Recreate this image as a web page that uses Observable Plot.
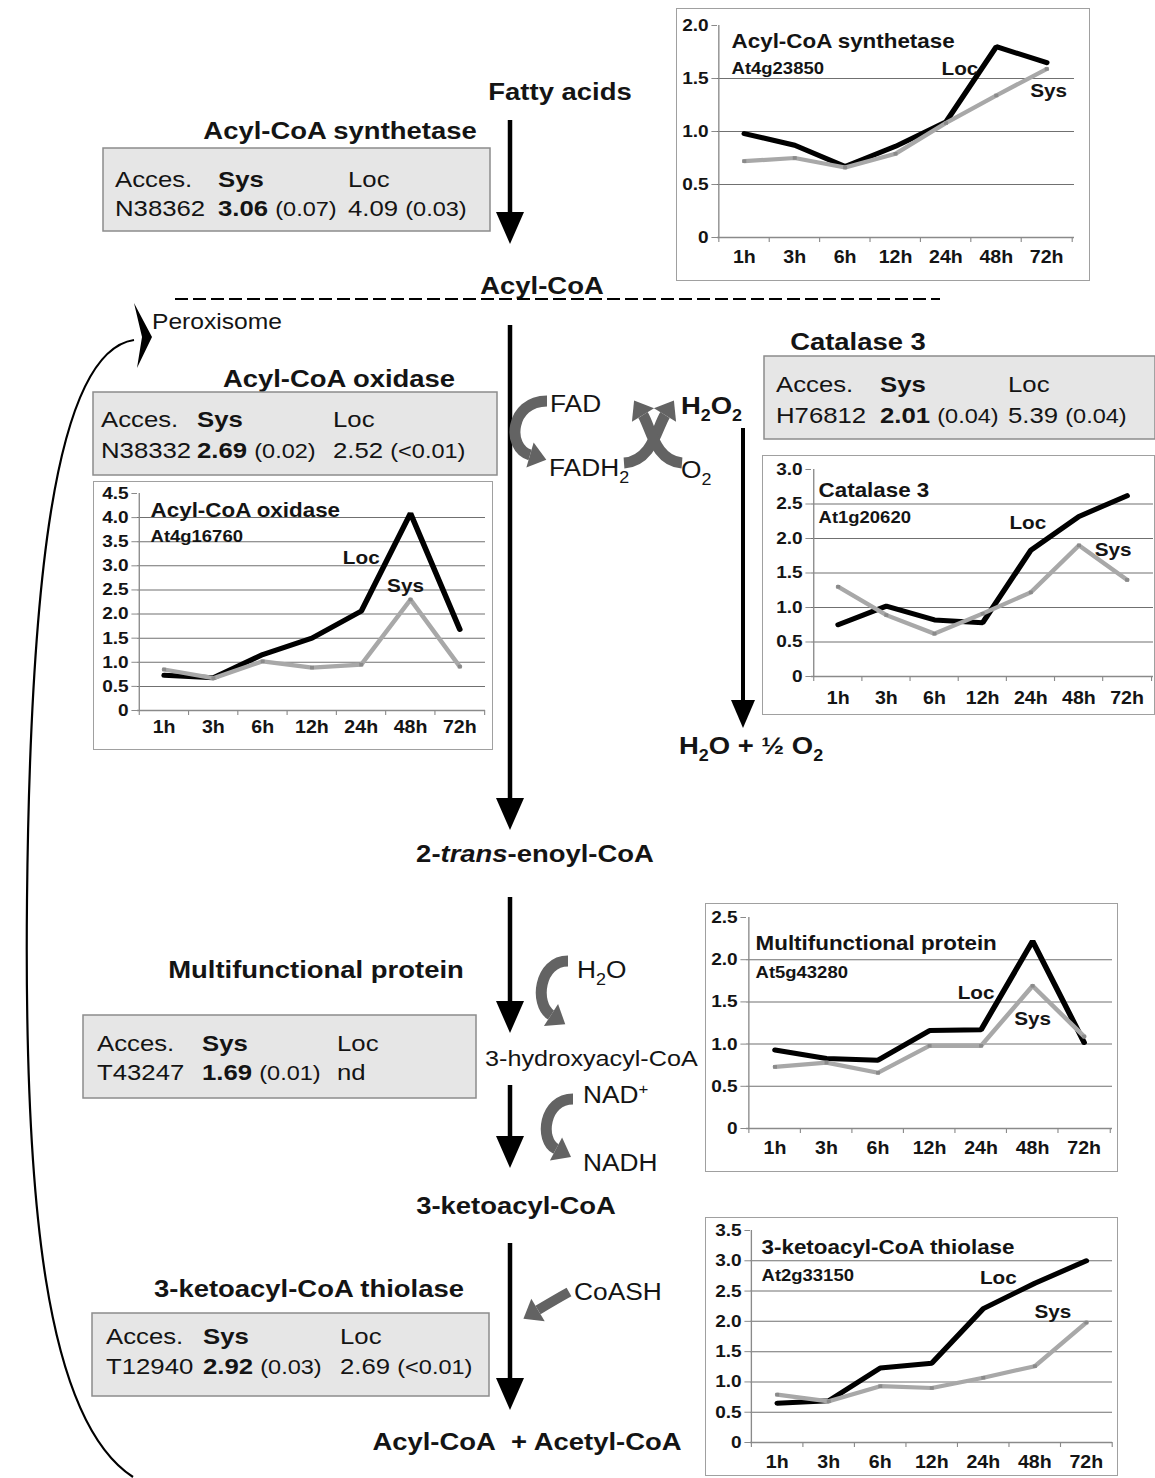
<!DOCTYPE html>
<html><head><meta charset="utf-8">
<script src="https://cdn.jsdelivr.net/npm/d3@7"></script>
<script src="https://cdn.jsdelivr.net/npm/@observablehq/plot@0.6"></script>
<style>
body{margin:0;background:#fff;}
#page{position:relative;width:1155px;height:1478px;overflow:hidden;background:#fff;font-family:"Liberation Sans",Arial,Helvetica,sans-serif;}
#diagram{position:absolute;left:0;top:0;}
.chart{position:absolute;box-sizing:border-box;overflow:hidden;background:#fff;outline:1.5px solid #a0a0a0;outline-offset:-1.5px;}
.chart svg{display:block;max-width:none;transform-origin:0 0;}
</style></head>
<body><div id="page"><svg id="diagram" width="1155" height="1478" xmlns="http://www.w3.org/2000/svg"></svg></div>
<script>
// ---------- data ----------
const timePoints = ["1h","3h","6h","12h","24h","48h","72h"];
const synthetaseLoc = [0.98, 0.87, 0.67, 0.86, 1.09, 1.80, 1.65];
const synthetaseSys = [0.72, 0.75, 0.66, 0.79, 1.08, 1.34, 1.59];
const oxidaseLoc = [0.73, 0.68, 1.16, 1.50, 2.06, 4.09, 1.68];
const oxidaseSys = [0.85, 0.67, 1.02, 0.89, 0.95, 2.30, 0.91];
const catalaseLoc = [0.75, 1.02, 0.82, 0.78, 1.83, 2.32, 2.62];
const catalaseSys = [1.30, 0.89, 0.62, 0.91, 1.22, 1.90, 1.40];
const mfpLoc = [0.93, 0.83, 0.81, 1.16, 1.17, 2.22, 1.02];
const mfpSys = [0.73, 0.78, 0.66, 0.98, 0.98, 1.69, 1.09];
const thiolaseLoc = [0.65, 0.69, 1.23, 1.31, 2.21, 2.63, 3.00];
const thiolaseSys = [0.79, 0.68, 0.93, 0.90, 1.07, 1.26, 1.98];
const yMax = [2.0, 4.5, 3.0, 2.5, 3.5];

const enzymes = ["Acyl-CoA synthetase","Acyl-CoA oxidase","Catalase 3","Multifunctional protein","3-ketoacyl-CoA thiolase"];
const genes = ["At4g23850","At4g16760","At1g20620","At5g43280","At2g33150"];
const accessions = ["N38362","N38332","H76812","T43247","T12940"];
const sysRatio = ["3.06","2.69","2.01","1.69","2.92"];
const sysP = ["(0.07)","(0.02)","(0.04)","(0.01)","(0.03)"];
const locRatio = ["4.09","2.52","5.39","nd","2.69"];
const locP = ["(0.03)","(<0.01)","(0.04)","","(<0.01)"];

// ---------- diagram ----------
const S = 1.12;
const P = [];
function esc(s){return s.replace(/&/g,"&amp;").replace(/</g,"&lt;");}
function label(x, cy, html, size, bold, anchor="start") {
  const base = cy + size*0.36;
  P.push(`<text transform="translate(${x},${base}) scale(${S},1)" font-size="${size}" font-weight="${bold?"bold":"normal"}" text-anchor="${anchor}" fill="#141414">${html}</text>`);
}
function vArrow(x, y1, tip, hw=14, hl=32, sw=4.5) {
  P.push(`<line x1="${x}" y1="${y1}" x2="${x}" y2="${tip-hl+2}" stroke="#000" stroke-width="${sw}"/>`);
  P.push(`<polygon points="${x-hw},${tip-hl} ${x+hw},${tip-hl} ${x},${tip}" fill="#000"/>`);
}
function grayArrow(p0,p1,p2,p3, len=17, hw=13, sw=11) {
  P.push(`<path d="M${p0} C${p1} ${p2} ${p3}" fill="none" stroke="#636363" stroke-width="${sw}"/>`);
  const dx=p3[0]-p2[0], dy=p3[1]-p2[1], L=Math.hypot(dx,dy), ux=dx/L, uy=dy/L;
  const tip=[p3[0]+ux*len, p3[1]+uy*len];
  const a=[p3[0]-uy*hw, p3[1]+ux*hw], b=[p3[0]+uy*hw, p3[1]-ux*hw];
  P.push(`<polygon points="${a} ${tip} ${b}" fill="#636363"/>`);
}
function box(i, x, y, w, h, cols, r1, r2) {
  P.push(`<rect x="${x}" y="${y}" width="${w}" height="${h}" fill="#e6e6e6" stroke="#8c8c8c" stroke-width="1.5"/>`);
  const fs = 23;
  label(cols[0], r1, "Acces.", fs, false);
  label(cols[1], r1, "Sys", fs, true);
  label(cols[2], r1, "Loc", fs, false);
  label(cols[0], r2, accessions[i], fs, false);
  label(cols[1], r2, `<tspan font-weight="bold">${sysRatio[i]}</tspan> <tspan font-size="21">${esc(sysP[i])}</tspan>`, fs, false);
  label(cols[2], r2, `${locRatio[i]} <tspan font-size="21">${esc(locP[i])}</tspan>`, fs, false);
}
const B = 24.5, R = 23.5;
const sub = (c) => `<tspan dy="7" font-size="16">${c}</tspan>`;
const up = `<tspan dy="-7">`;

// recycling arc
P.push(`<path d="M134,340 C52,352 30,600 27,900 C24,1200 45,1420 133,1477" fill="none" stroke="#000" stroke-width="2.2"/>`);
P.push(`<polygon points="134,303 152,337 137,368 142,337" fill="#000"/>`);

label(560, 91, "Fatty acids", B, true, "middle");
vArrow(510, 120, 244);
label(340, 130, enzymes[0], B, true, "middle");
box(0, 103, 148, 387, 83, [115, 218, 348], 179, 208);

label(542, 285, "Acyl-CoA", B, true, "middle");
P.push(`<line x1="175" y1="299" x2="940" y2="299" stroke="#000" stroke-width="2.2" stroke-dasharray="13 5"/>`);
label(152, 321, "Peroxisome", 22, false);

vArrow(510, 325, 830);
label(339, 378, enzymes[1], B, true, "middle");
box(1, 93, 392, 404, 83, [101, 197, 333], 419, 450);

// FAD / H2O2 cofactors
grayArrow([547,401],[510,401],[506,448],[530,455]);
label(550, 404, "FAD", R, false);
label(549, 468, `FADH${sub("2")}`, R, false);
grayArrow([624,463],[652,461],[657,428],[665,415]);
grayArrow([682,463],[655,461],[651,428],[643,415]);
label(681, 405, `H${sub("2")}${up}O</tspan>${sub("2")}`, B, true);
label(681, 470, `O${sub("2")}`, R, false);

// catalase branch
vArrow(743, 428, 728, 12, 28, 4);
label(858, 341, enzymes[2], B, true, "middle");
box(2, 764, 356, 391, 83, [776, 880, 1008], 384, 415);
label(679, 745, `H${sub("2")}${up}O + ½ O</tspan>${sub("2")}`, B, true);

label(535, 853, `2-<tspan font-style="italic">trans</tspan>-enoyl-CoA`, B, true, "middle");
vArrow(510, 897, 1033);
grayArrow([568,961],[539,961],[534,1004],[551,1015]);
label(577, 970, `H${sub("2")}${up}O</tspan>`, R, false);
label(316, 969, enzymes[3], B, true, "middle");
box(3, 83, 1015, 393, 83, [97, 202, 337], 1043, 1072);
label(485, 1058, "3-hydroxyacyl-CoA", 22.5, false);

vArrow(510, 1085, 1168);
grayArrow([573,1099],[544,1099],[539,1140],[556,1149]);
label(583, 1095, `NAD<tspan dy="-9" font-size="15">+</tspan>`, R, false);
label(583, 1163, "NADH", R, false);

label(516, 1205, "3-ketoacyl-CoA", B, true, "middle");
vArrow(510, 1243, 1410);
grayArrow([569,1292],[560,1297],[548,1304],[538,1310], 17, 13, 10);
label(574, 1292, "CoASH", R, false);
label(309, 1288, enzymes[4], B, true, "middle");
box(4, 92, 1313, 397, 83, [106, 203, 340], 1336, 1366);
label(527, 1441, "Acyl-CoA&#160; + Acetyl-CoA", B, true, "middle");

const dg = document.getElementById("diagram");
dg.setAttribute("font-family", "Liberation Sans, Arial, Helvetica, sans-serif");
dg.innerHTML = P.join("\n");

// ---------- charts ----------
const charts = [
  {left:676, top:8, w:414, h:273, ml:41, mr:16, mt:17, mb:44, loc:synthetaseLoc, sys:synthetaseSys, tdx:14, tdy:16, gdy:43, tp:13,
   lab:[{s:"Loc",x:"24h",y:1.59,dx:14},{s:"Sys",x:"72h",y:1.385,dx:2}]},
  {left:93, top:481, w:400, h:269, ml:44, mr:8, mt:12, mb:40, loc:oxidaseLoc, sys:oxidaseSys, tdx:13, tdy:17, gdy:43, tp:10,
   lab:[{s:"Loc",x:"24h",y:3.17,dx:0},{s:"Sys",x:"48h",y:2.59,dx:-5}]},
  {left:762, top:455, w:393, h:260, ml:49, mr:2, mt:14, mb:39, loc:catalaseLoc, sys:catalaseSys, tdx:7, tdy:21, gdy:48, tp:15,
   lab:[{s:"Loc",x:"24h",y:2.23,dx:-3},{s:"Sys",x:"72h",y:1.83,dx:-14}]},
  {left:705, top:903, w:413, h:269, ml:41, mr:6, mt:14, mb:44, loc:mfpLoc, sys:mfpSys, tdx:9, tdy:26, gdy:55, tp:13,
   lab:[{s:"Loc",x:"24h",y:1.61,dx:-5},{s:"Sys",x:"48h",y:1.30,dx:0}]},
  {left:705, top:1217, w:413, h:259, ml:45, mr:6, mt:13, mb:34, loc:thiolaseLoc, sys:thiolaseSys, tdx:11, tdy:17, gdy:45, tp:13,
   lab:[{s:"Loc",x:"24h",y:2.71,dx:15},{s:"Sys",x:"48h",y:2.15,dx:18}]}
];

const page = document.getElementById("page");
charts.forEach((c, i) => {
  const ymax = yMax[i];
  const W = c.w / S, ml = c.ml / S, mr = c.mr / S;
  const bw = (W - ml - mr) / timePoints.length;
  const ph = c.h - c.mt - c.mb;
  const tickLen = 5 / ph * ymax;
  const locData = timePoints.map((t, k) => ({t, v: c.loc[k]}));
  const sysData = timePoints.map((t, k) => ({t, v: c.sys[k]}));
  const yt = d3.range(0, Math.round(ymax / 0.5) + 1).map(k => k * 0.5);
  const marks = [
    Plot.ruleY(yt.filter(v => v > 0 && v < ymax - 1e-9), {stroke: "#707070", strokeWidth: 1}),
    Plot.ruleY([0], {stroke: "#8a8a8a", strokeWidth: 1.3}),
    Plot.ruleX([timePoints[0]], {dx: -bw / 2, y1: 0, y2: ymax, stroke: "#8a8a8a", strokeWidth: 1.2}),
    Plot.ruleX(timePoints, {dx: -bw / 2, y1: 0, y2: -tickLen, stroke: "#8a8a8a"}),
    Plot.ruleX([timePoints[timePoints.length - 1]], {dx: bw / 2, y1: 0, y2: -tickLen, stroke: "#8a8a8a"}),
    Plot.axisY({ticks: yt, tickFormat: v => v === 0 ? "0" : v.toFixed(1), tickSize: 5, tickPadding: 3,
      stroke: "#8a8a8a", fill: "#141414", fontSize: 17, fontWeight: "bold", label: null}),
    Plot.axisX({tickSize: 0, tickPadding: c.tp, fill: "#141414", fontSize: 17.5, fontWeight: "bold", label: null}),
    Plot.line(locData, {x: "t", y: "v", stroke: "#000", strokeWidth: 5, strokeLinejoin: "miter"}),
    Plot.line(sysData, {x: "t", y: "v", stroke: "#a8a8a8", strokeWidth: 4.2}),
    Plot.dot(sysData, {x: "t", y: "v", symbol: "square", r: 2, fill: "#8a8a8a"}),
    Plot.text([enzymes[i]], {frameAnchor: "top-left", dx: c.tdx / S, dy: c.tdy, textAnchor: "start", lineAnchor: "middle",
      fontSize: 20, fontWeight: "bold", fill: "#141414"}),
    Plot.text([genes[i]], {frameAnchor: "top-left", dx: c.tdx / S, dy: c.gdy, textAnchor: "start", lineAnchor: "middle",
      fontSize: 16.5, fontWeight: "bold", fill: "#141414"}),
    ...c.lab.map(l => Plot.text([l], {x: "x", y: "y", text: "s", dx: l.dx / S, textAnchor: "middle", lineAnchor: "middle",
      fontSize: 18.5, fontWeight: "bold", fill: "#141414"}))
  ];
  const plot = Plot.plot({
    width: W, height: c.h,
    marginLeft: ml, marginRight: mr, marginTop: c.mt, marginBottom: c.mb,
    x: {type: "band", domain: timePoints, padding: 0},
    y: {type: "linear", domain: [0, ymax]},
    style: {fontFamily: "Liberation Sans, Arial, Helvetica, sans-serif", color: "#141414", background: "transparent", overflow: "visible"},
    marks
  });
  plot.style.transform = `scaleX(${S})`;
  plot.style.maxWidth = "none";
  const div = document.createElement("div");
  div.className = "chart";
  Object.assign(div.style, {left: c.left + "px", top: c.top + "px", width: c.w + "px", height: c.h + "px"});
  div.appendChild(plot);
  page.appendChild(div);
});
</script>
</body></html>
